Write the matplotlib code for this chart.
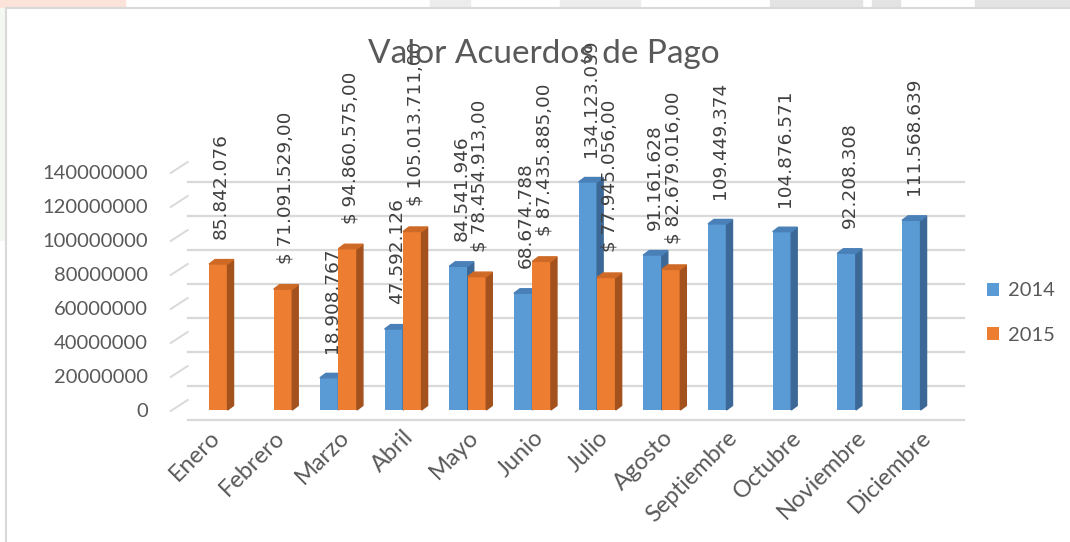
import matplotlib.pyplot as plt
from matplotlib.patches import Polygon, Rectangle
from matplotlib.transforms import ScaledTranslation

# datos
meses = ["Enero", "Febrero", "Marzo", "Abril", "Mayo", "Junio", "Julio",
         "Agosto", "Septiembre", "Octubre", "Noviembre", "Diciembre"]
valores_2014 = [None, None, 18908767, 47592126, 84541946, 68674788, 134123039,
                91161628, 109449374, 104876571, 92208308, 111568639]
valores_2015 = [85842076, 71091529, 94860575, 105013711, 78454913, 87435885,
                77945056, 82679016, None, None, None, None]
etiquetas_2014 = [None, None, "18.908.767", "47.592.126", "84.541.946", "68.674.788",
                  "134.123.039", "91.161.628", "109.449.374", "104.876.571",
                  "92.208.308", "111.568.639"]
etiquetas_2015 = ["85.842.076", "$ 71.091.529,00", "$ 94.860.575,00", "$ 105.013.711,00",
                  "$ 78.454.913,00", "$ 87.435.885,00", "$ 77.945.056,00",
                  "$ 82.679.016,00", None, None, None, None]
ticks_y = [0, 20000000, 40000000, 60000000, 80000000, 100000000, 120000000, 140000000]

W, H = 1070, 542
fig = plt.figure(figsize=(W / 100, H / 100), dpi=100)

# franja superior (fondo de la hoja)
for x0, x1, c in [(0, 125, "#fbe3d9"), (430, 470, "#ececec"), (560, 640, "#ececec"),
                  (770, 862, "#e3e3e3"), (872, 900, "#e3e3e3"), (975, 1070, "#e3e3e3")]:
    fig.patches.append(Rectangle((x0 / W, 1 - 8 / H), (x1 - x0) / W, 8 / H,
                                 transform=fig.transFigure, color=c, zorder=-2))
fig.patches.append(Rectangle((0, 1 - 240 / H), 6 / W, 232 / H,
                             transform=fig.transFigure, color="#f3f8f1", zorder=-2))
# borde del area del grafico
fig.patches.append(Rectangle((6 / W, -0.05), 1.1, 1 - 8 / H + 0.05, transform=fig.transFigure,
                             facecolor="white", edgecolor="#d9d9d9", linewidth=1.5, zorder=-1))

# ejes: plano frontal
ax_l, ax_r = 176.7, 952.9
ax_b, ax_t = 410, 172
ax = fig.add_axes([ax_l / W, 1 - ax_b / H, (ax_r - ax_l) / W, (ax_b - ax_t) / H])
ax.set_xlim(-0.5, 11.5)
ax.set_ylim(0, 140000000)
ax.patch.set_alpha(0)
for s in ax.spines.values():
    s.set_visible(False)

px_x = (ax_r - ax_l) / 12.0           # pixeles por categoria
px_y = (ax_b - ax_t) / 140000000.0    # pixeles por unidad

# lineas de division en la pared del fondo
fondo = ax.transData + ScaledTranslation(11 / 100, -10 / 100, fig.dpi_scale_trans)
for t in ticks_y:
    ax.plot([-0.5, 11.5], [t, t], color="#d9d9d9", lw=1.6, transform=fondo, zorder=1,
            clip_on=False)
    ax.plot([-0.5 - 6 / px_x, -0.5 + 11 / px_x], [t - 1 / px_y, t + 10 / px_y],
            color="#d9d9d9", lw=1.4, zorder=1, clip_on=False)

gris = "#595959"
ax.set_yticks(ticks_y)
ax.set_yticklabels([str(t) for t in ticks_y], family="Lato", fontsize=14.5, color=gris)
ax.set_xticks(range(12))
ax.set_xticklabels(meses, family="Lato", fontsize=17, color=gris, rotation=45,
                   ha="right", rotation_mode="anchor")
ax.tick_params(axis="y", length=0, pad=20.5)
ax.tick_params(axis="x", length=0, pad=12)

w = 18.5 / px_x
dx = 6 / px_x
dy = 4.5 / px_y
series = [
    (valores_2014, etiquetas_2014, -w / 2, "#5b9bd5", "#4a80b8", "#3b6896", "2014"),
    (valores_2015, etiquetas_2015, w / 2, "#ed7d31", "#cf6a26", "#a3521e", "2015"),
]
handles = {}
for i in range(12):
    for vals, labs, off, c_front, c_top, c_side, nombre in series:
        v = vals[i]
        if v is None:
            continue
        x = i + off
        b = ax.bar(x, v, width=w, color=c_front, zorder=3 + i, clip_on=False)
        xl, xr = x - w / 2, x + w / 2
        ax.add_patch(Polygon([(xr, 0), (xr, v), (xr + dx, v + dy), (xr + dx, dy)],
                             closed=True, color=c_side, zorder=3 + i, clip_on=False))
        ax.add_patch(Polygon([(xl, v), (xr, v), (xr + dx, v + dy), (xl + dx, v + dy)],
                             closed=True, color=c_top, zorder=3 + i, clip_on=False))
        ax.annotate(labs[i], (x, v), xytext=(2, 18), textcoords="offset points",
                    rotation=90, ha="center", va="bottom", family="DejaVu Sans",
                    fontsize=13.3, color="#404040", zorder=30, annotation_clip=False)
        handles.setdefault(nombre, b)

nombres = sorted(handles)
fig.legend([handles[n] for n in nombres], nombres, loc="center left",
           bbox_to_anchor=(987 / W, 1 - 313 / H), frameon=False, prop={"family": "Lato", "size": 14.5},
           labelcolor=gris, handlelength=0.6, handleheight=0.6, handletextpad=0.45,
           labelspacing=1.35, borderpad=0, borderaxespad=0)

fig.text(543.5 / W, 1 - 54 / H, "Valor Acuerdos de Pago", ha="center", va="center",
         family="Lato", fontsize=24, color=gris)

plt.savefig("out.png", dpi=100)
plt.close()
